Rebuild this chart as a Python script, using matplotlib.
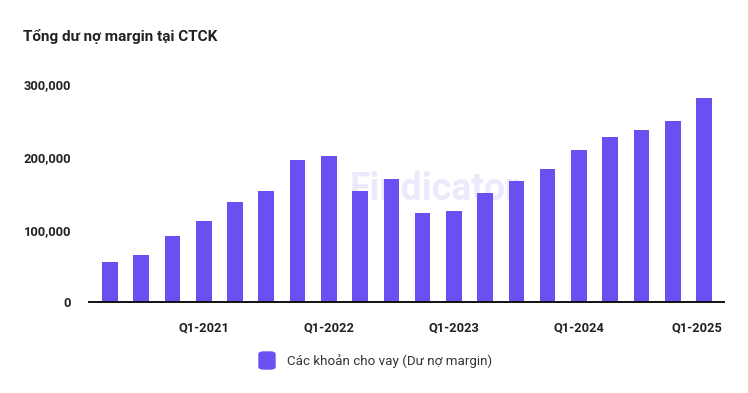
import matplotlib.pyplot as plt
import matplotlib.transforms as mtransforms
from matplotlib.patches import FancyBboxPatch
from matplotlib.ticker import FuncFormatter

plt.rcParams['font.family'] = ['Roboto', 'DejaVu Sans']

# Quarterly margin lending balance, Q2-2020 .. Q1-2025 (billion VND)
quarters = ['Q2-2020', 'Q3-2020', 'Q4-2020',
            'Q1-2021', 'Q2-2021', 'Q3-2021', 'Q4-2021',
            'Q1-2022', 'Q2-2022', 'Q3-2022', 'Q4-2022',
            'Q1-2023', 'Q2-2023', 'Q3-2023', 'Q4-2023',
            'Q1-2024', 'Q2-2024', 'Q3-2024', 'Q4-2024',
            'Q1-2025']
margin_loans = [55000, 65500, 91500, 112000, 138000, 153500, 195700, 201200,
                153500, 169200, 122400, 125600, 150300, 167300, 182900, 209000,
                227400, 237000, 249400, 281400]
y_ticks = [0, 100000, 200000, 300000]

bar_color = '#6a4ff1'
text_color = '#222222'

fig = plt.figure(figsize=(7.48, 3.93), dpi=100)
ax = fig.add_axes([89 / 748, 1 - 302.3 / 393, (724 - 89) / 748, (302.3 - 84.3) / 393])

x = list(range(len(quarters)))
ax.bar(x, margin_loans, width=0.5, color=bar_color, zorder=2)

ax.set_xlim(-0.67, 19.64)
ax.set_ylim(0, 300000)
ax.set_yticks(y_ticks)
ax.yaxis.set_major_formatter(FuncFormatter(lambda v, p: f'{int(v):,}'))

# only every 4th quarter gets a label
label_idx = [i for i, q in enumerate(quarters) if q.startswith('Q1')]
ax.set_xticks(label_idx)
ax.set_xticklabels([quarters[i] for i in label_idx])

ax.tick_params(axis='both', length=0, labelsize=9.3, colors=text_color)
ax.tick_params(axis='y', pad=13)
ax.tick_params(axis='x', pad=14)
for lbl in ax.get_xticklabels() + ax.get_yticklabels():
    lbl.set_fontweight('bold')

# last label is pushed left so it stays inside the chart
last = ax.get_xticklabels()[-1]
last.set_transform(last.get_transform() + mtransforms.ScaledTranslation(-7 / 100, 0, fig.dpi_scale_trans))

for side in ['top', 'right', 'left']:
    ax.spines[side].set_visible(False)
ax.spines['bottom'].set_color('#111111')
ax.spines['bottom'].set_linewidth(1.4)
ax.spines['bottom'].set_zorder(3)

# faint watermark
fig.text(435 / 748, 1 - 190 / 393, 'Findicator', fontsize=27, fontweight='bold', color='#6a4ff1',
         alpha=0.12, ha='center', va='center')

fig.text(23 / 748, 1 - 36 / 393, 'Tổng dư nợ margin tại CTCK', fontsize=11,
         fontweight='bold', color=text_color, ha='left', va='center')

# legend
fig.patches.append(FancyBboxPatch((259 / 748, 1 - 369 / 393), 16 / 748, 17 / 393,
                                  boxstyle='round,pad=0,rounding_size=0.006',
                                  transform=fig.transFigure, color=bar_color, figure=fig))
fig.text(287 / 748, 1 - 361 / 393, 'Các khoản cho vay (Dư nợ margin)', fontsize=9.6,
         color='#333333', ha='left', va='center')

fig.savefig('out.png', dpi=100)
